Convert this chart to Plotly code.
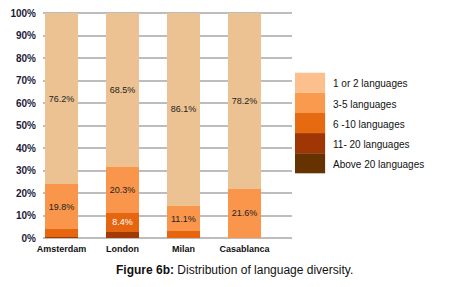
import plotly.graph_objects as go

cities = ["Amsterdam", "London", "Milan", "Casablanca"]
series_names = ["1 or 2 languages", "3-5 languages", "6 -10 languages", "11- 20 languages", "Above 20 languages"]
v_1_2 = [76.2, 68.5, 86.1, 78.2]
v_3_5 = [19.8, 20.3, 11.1, 21.6]
v_6_10 = [3.4, 8.4, 3.0, 0.2]
v_11_20 = [0.6, 2.8, 0.0, 0.0]
v_above20 = [0.0, 0.0, 0.0, 0.0]
y_ticks = [0, 10, 20, 30, 40, 50, 60, 70, 80, 90, 100]

bar_colors = ["#ECC292", "#F9964B", "#E6650F", "#A13A05", "#673300"]
legend_colors = ["#FCC08F", "#F99A4E", "#E66A10", "#A03604", "#663300"]

font_fam = "Arial, Liberation Sans, sans-serif"
xs = [0, 1, 2, 3]

def labels(vals, show):
    return [f"{v:.1f}%" if s else "" for v, s in zip(vals, show)]

stack = [
    (v_above20, bar_colors[4], [False]*4, "#222"),
    (v_11_20, bar_colors[3], [False]*4, "#222"),
    (v_6_10, bar_colors[2], [False, True, False, False], "white"),
    (v_3_5, bar_colors[1], [True]*4, "#222"),
    (v_1_2, bar_colors[0], [True]*4, "#222"),
]

fig = go.Figure()
for vals, col, show, tc in stack:
    fig.add_trace(go.Bar(
        x=xs, y=vals, marker=dict(color=col, line=dict(width=0)),
        width=0.54, text=labels(vals, show), textposition="inside",
        insidetextanchor="middle", textangle=0,
        textfont=dict(size=9, color=tc, family=font_fam),
        showlegend=False, hoverinfo="skip",
    ))

fig.update_layout(
    barmode="stack",
    width=457, height=287,
    margin=dict(l=43, r=165, t=8, b=49),
    plot_bgcolor="white", paper_bgcolor="white",
    font=dict(family=font_fam),
    uniformtext=dict(minsize=8, mode="show"),
    xaxis=dict(range=[-0.303, 3.78], tickvals=xs, ticktext=cities,
               tickfont=dict(size=9, color="#111", family=font_fam),
               showgrid=False, zeroline=False, ticks="", showline=False, ticklabelstandoff=4),
    yaxis=dict(range=[0, 100.9], tickvals=y_ticks, ticktext=[f"{t}%" for t in y_ticks],
               tickfont=dict(size=10, color="#1c1c3a"), gridcolor="#BDBDBD", gridwidth=1.5,
               zeroline=True, zerolinecolor="#BDBDBD", zerolinewidth=1.5, ticks="", ticklabelstandoff=6),
)
fig.update_xaxes(tickfont=dict(weight="bold"))
fig.update_yaxes(tickfont=dict(weight="bold"))

# custom legend: contiguous swatches
top = 0.728
h = 0.0886
for i, name in enumerate(series_names):
    y1 = top - i*h
    y0 = y1 - h
    fig.add_shape(type="rect", xref="paper", yref="paper", x0=1.012, x1=1.133, y0=y0, y1=y1,
                  fillcolor=legend_colors[i], line=dict(width=0), layer="above")
    fig.add_annotation(xref="paper", yref="paper", x=1.155, y=(y0+y1)/2 - 0.005, text=name,
                       showarrow=False, xanchor="left", yanchor="middle",
                       font=dict(size=10, color="#111", family=font_fam))

fig.add_annotation(xref="paper", yref="paper", x=0.77, y=-0.14,
                   text="<b>Figure 6b:</b> Distribution of language diversity.",
                   showarrow=False, xanchor="center", yanchor="middle",
                   font=dict(size=12, color="#111", family=font_fam))

fig.write_html("out.html", config={"displayModeBar": False},
               post_script="document.body.style.margin='0px';")
